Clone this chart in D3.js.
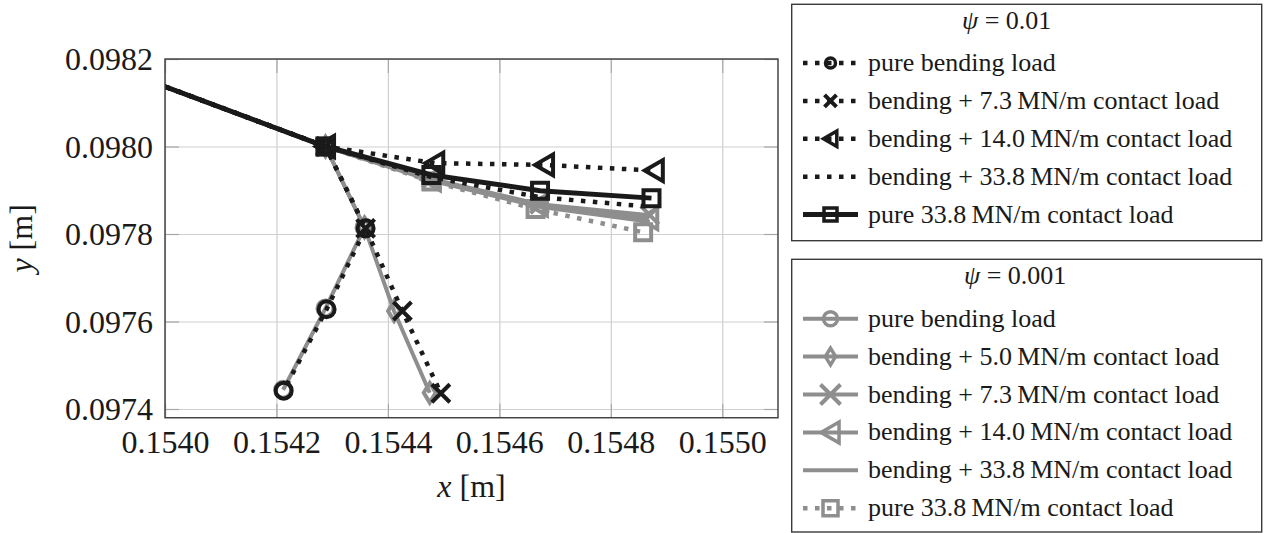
<!DOCTYPE html>
<html>
<head>
<meta charset="utf-8">
<script src="https://cdn.jsdelivr.net/npm/d3@7"></script>
<style>
  body { margin: 0; background: #fff; }
  svg { display: block; }
  text { font-family: 'Liberation Serif', 'Times New Roman', Times, 'DejaVu Serif', serif; }
</style>
</head>
<body>
<script>
// tick values
const xTicks = [0.1540, 0.1542, 0.1544, 0.1546, 0.1548, 0.1550]
const yTicks = [0.0974, 0.0976, 0.0978, 0.0980, 0.0982]

// psi = 0.01 runs (x, y in m); first point lies left of the plot and gets clipped
const bend01 = [[0.15380, 0.098232], [0.154288, 0.098000], [0.154360, 0.097813], [0.154290, 0.097628], [0.154213, 0.097442]]
const bend73_01 = [[0.15380, 0.098232], [0.154288, 0.098000], [0.154360, 0.097813], [0.154426, 0.097624], [0.154495, 0.097436]]
const bend140_01 = [[0.15380, 0.098232], [0.154288, 0.098000], [0.154484, 0.097962], [0.154681, 0.097958], [0.154878, 0.097945]]
const bend338_01 = [[0.15380, 0.098232], [0.154288, 0.098000], [0.154478, 0.097930], [0.154673, 0.097884], [0.154873, 0.097862]]
const pure338_01 = [[0.15380, 0.098232], [0.154288, 0.098000], [0.154478, 0.097935], [0.154673, 0.097899], [0.154873, 0.097882]]

// psi = 0.001 runs
const bend001 = [[0.15380, 0.098232], [0.154288, 0.098000], [0.154358, 0.097815], [0.154288, 0.097630], [0.154212, 0.097444]]
const bend50_001 = [[0.15380, 0.098232], [0.154288, 0.098000], [0.154358, 0.097815], [0.154411, 0.097624], [0.154475, 0.097437]]
const bend73_001 = [[0.15380, 0.098232], [0.154288, 0.098000], [0.154478, 0.097926], [0.154672, 0.097868], [0.154870, 0.097843]]
const bend140_001 = [[0.15380, 0.098232], [0.154288, 0.098000], [0.154478, 0.097924], [0.154670, 0.097866], [0.154868, 0.097835]]
const bend338_001 = [[0.15380, 0.098232], [0.154288, 0.098000], [0.154478, 0.097922], [0.154672, 0.097862], [0.154870, 0.097828]]
const pure338_001 = [[0.15380, 0.098232], [0.154288, 0.098000], [0.154478, 0.097920], [0.154665, 0.097857], [0.154858, 0.097804]]

// legend labels
const labels01 = [
  'pure bending load',
  'bending + 7.3\u2009MN/m contact load',
  'bending + 14.0\u2009MN/m contact load',
  'bending + 33.8\u2009MN/m contact load',
  'pure 33.8\u2009MN/m contact load'
]
const labels001 = [
  'pure bending load',
  'bending + 5.0\u2009MN/m contact load',
  'bending + 7.3\u2009MN/m contact load',
  'bending + 14.0\u2009MN/m contact load',
  'bending + 33.8\u2009MN/m contact load',
  'pure 33.8\u2009MN/m contact load'
]

const BLACK = '#1a1a1a'
const GRAY = '#8e8e8e'
const DOT = '4.5,7.5'
const SERIF = "'Liberation Serif', 'Times New Roman', Times, 'DejaVu Serif', serif"

const gray = [
  { data: bend001, color: GRAY, dash: null, w: 4, mark: 'circle' },
  { data: bend50_001, color: GRAY, dash: null, w: 4, mark: 'diamond' },
  { data: bend73_001, color: GRAY, dash: null, w: 4, mark: 'x' },
  { data: bend140_001, color: GRAY, dash: null, w: 4, mark: 'tri' },
  { data: bend338_001, color: GRAY, dash: null, w: 4, mark: null },
  { data: pure338_001, color: GRAY, dash: DOT, w: 4.5, mark: 'square' }
]
const black = [
  { data: bend01, color: BLACK, dash: DOT, w: 4.5, mark: 'circle' },
  { data: bend73_01, color: BLACK, dash: DOT, w: 4.5, mark: 'x' },
  { data: bend140_01, color: BLACK, dash: DOT, w: 4.5, mark: 'tri' },
  { data: bend338_01, color: BLACK, dash: DOT, w: 4.5, mark: null },
  { data: pure338_01, color: BLACK, dash: null, w: 5, mark: 'square' }
]

const x = d3.scaleLinear().domain([0.1540, 0.1551]).range([165, 778])
const y = d3.scaleLinear().domain([0.09738, 0.0982]).range([417.75, 59])

const pLeft = x.range()[0], pRight = x.range()[1]
const pBottom = y.range()[0], pTop = y.range()[1]

const svg = d3.select('body').append('svg')
  .attr('width', 1266)
  .attr('height', 533)
  .attr('font-family', SERIF)

// marker shapes, s = rough half size
function markPath(type, s) {
  if (type === 'circle') {
    return `M${s},0A${s},${s} 0 1,1 ${-s},0A${s},${s} 0 1,1 ${s},0Z`
  }
  if (type === 'x') {
    return `M${-s},${-s}L${s},${s}M${-s},${s}L${s},${-s}`
  }
  if (type === 'tri') {
    return `M${-s},0L${s * 0.9},${-s * 1.1}L${s * 0.9},${s * 1.1}Z`
  }
  if (type === 'diamond') {
    return `M0,${-s * 1.4}L${s * 0.85},0L0,${s * 1.4}L${-s * 0.85},0Z`
  }
  if (type === 'square') {
    return `M${-s},${-s}H${s}V${s}H${-s}Z`
  }
  return ''
}
const markSize = { circle: 8, x: 9, tri: 9.5, diamond: 7, square: 8 }

// grid
svg.append('g')
  .attr('transform', `translate(0,${pBottom})`)
  .call(d3.axisBottom(x).tickValues(xTicks).tickSize(-(pBottom - pTop)).tickFormat(''))
  .call(g => g.select('.domain').remove())
  .selectAll('line').attr('stroke', '#cfcfcf').attr('stroke-width', 1.2)
svg.append('g')
  .attr('transform', `translate(${pLeft},0)`)
  .call(d3.axisLeft(y).tickValues(yTicks).tickSize(-(pRight - pLeft)).tickFormat(''))
  .call(g => g.select('.domain').remove())
  .selectAll('line').attr('stroke', '#cfcfcf').attr('stroke-width', 1.2)

// inner tick marks on all four sides
const tickAxes = [
  [d3.axisBottom(x).tickValues(xTicks), `translate(0,${pBottom})`],
  [d3.axisTop(x).tickValues(xTicks), `translate(0,${pTop})`],
  [d3.axisLeft(y).tickValues(yTicks), `translate(${pLeft},0)`],
  [d3.axisRight(y).tickValues(yTicks), `translate(${pRight},0)`]
]
tickAxes.forEach(([ax, tr]) => {
  svg.append('g')
    .attr('transform', tr)
    .call(ax.tickSize(-14).tickFormat(''))
    .call(g => g.select('.domain').remove())
    .selectAll('line').attr('stroke', '#a8a8a8').attr('stroke-width', 1.2)
})

// tick labels
svg.append('g')
  .attr('transform', `translate(0,${pBottom})`)
  .call(d3.axisBottom(x).tickValues(xTicks).tickSize(0).tickFormat(d3.format('.4f')))
  .call(g => g.select('.domain').remove())
  .attr('font-family', SERIF).attr('font-size', 32)
  .selectAll('text')
    .attr('y', 35.5).attr('dy', 0)
    .attr('fill', BLACK)
svg.append('g')
  .attr('transform', `translate(${pLeft},0)`)
  .call(d3.axisLeft(y).tickValues(yTicks).tickSize(0).tickFormat(d3.format('.4f')))
  .call(g => g.select('.domain').remove())
  .attr('font-family', SERIF).attr('font-size', 32)
  .selectAll('text')
    .attr('x', -12).attr('dy', '0.34em')
    .attr('fill', BLACK)

// axis titles
const xl = svg.append('text')
  .attr('x', (pLeft + pRight) / 2)
  .attr('y', 497)
  .attr('text-anchor', 'middle')
  .attr('font-size', 32)
  .attr('fill', BLACK)
xl.append('tspan').attr('font-style', 'italic').text('x')
xl.append('tspan').text(' [m]')

const yl = svg.append('text')
  .attr('transform', `translate(32,${(pTop + pBottom) / 2}) rotate(-90)`)
  .attr('text-anchor', 'middle')
  .attr('font-size', 32)
  .attr('fill', BLACK)
yl.append('tspan').attr('font-style', 'italic').text('y')
yl.append('tspan').text(' [m]')

// data
svg.append('clipPath').attr('id', 'plotclip')
  .append('rect')
  .attr('x', pLeft).attr('y', pTop)
  .attr('width', pRight - pLeft).attr('height', pBottom - pTop)

const plot = svg.append('g').attr('clip-path', 'url(#plotclip)')
const line = d3.line().x(d => x(d[0])).y(d => y(d[1]))

function drawSeries(s) {
  plot.append('path')
    .attr('d', line(s.data))
    .attr('fill', 'none')
    .attr('stroke', s.color)
    .attr('stroke-width', s.w)
    .attr('stroke-dasharray', s.dash)
  if (!s.mark) return
  plot.append('g')
    .selectAll('path')
    .data(s.data)
    .join('path')
      .attr('transform', d => `translate(${x(d[0])},${y(d[1])})`)
      .attr('d', markPath(s.mark, markSize[s.mark]))
      .attr('fill', 'none')
      .attr('stroke', s.color)
      .attr('stroke-width', 4)
}
gray.forEach(drawSeries)
black.forEach(drawSeries)

// frame
svg.append('rect')
  .attr('x', pLeft).attr('y', pTop)
  .attr('width', pRight - pLeft).attr('height', pBottom - pTop)
  .attr('fill', 'none')
  .attr('stroke', '#3a3a3a')
  .attr('stroke-width', 1.4)

// legends
function legend(y0, y1, titleVal, titleX, base0, labels, entries, msize) {
  const g = svg.append('g')
  g.append('rect')
    .attr('x', 791.7).attr('y', y0)
    .attr('width', 470).attr('height', y1 - y0)
    .attr('fill', '#fff')
    .attr('stroke', '#3a3a3a')
    .attr('stroke-width', 1.4)
  const t = g.append('text')
    .attr('x', titleX).attr('y', base0 - 42.5)
    .attr('font-size', 26).attr('fill', BLACK)
  t.append('tspan').attr('font-style', 'italic').text('\u03c8')
  t.append('tspan').text(' = ' + titleVal)

  labels.forEach((lab, i) => {
    const s = entries[i]
    const by = base0 + i * 37.9
    const cy = by - 8
    g.append('line')
      .attr('x1', 803).attr('x2', 858)
      .attr('y1', cy).attr('y2', cy)
      .attr('stroke', s.color)
      .attr('stroke-width', s.w)
      .attr('stroke-dasharray', s.dash)
    if (s.mark) {
      g.append('path')
        .attr('transform', `translate(830.5,${cy})`)
        .attr('d', markPath(s.mark, msize[s.mark]))
        .attr('fill', 'none')
        .attr('stroke', s.color)
        .attr('stroke-width', s.mark === 'x' ? 4 : 3.5)
    }
    g.append('text')
      .attr('x', 868).attr('y', by)
      .attr('font-size', 26).attr('fill', BLACK)
      .text(lab)
  })
}

legend(4.3, 240.7, '0.01', 962, 71, labels01, black,
  { circle: 5, x: 6, tri: 7, square: 6.5 })
legend(259.3, 532, '0.001', 964, 326.7, labels001, gray,
  { circle: 7, x: 10, tri: 9.5, diamond: 6, square: 7.5 })
</script>
</body>
</html>
